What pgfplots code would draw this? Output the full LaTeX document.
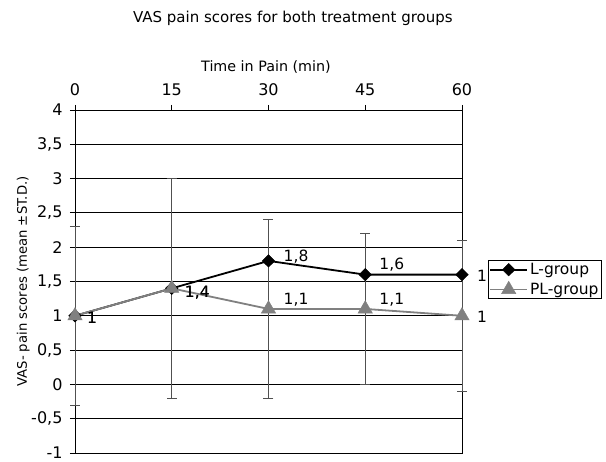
\documentclass[border=0pt]{standalone}
\usepackage{fontspec}
\setmainfont{DejaVu Sans}
\usepackage{pgfplots}
\pgfplotsset{compat=1.18}
\usepackage{pgfplotstable}
\definecolor{plgray}{HTML}{808080}
\definecolor{errgray}{HTML}{505050}

\pgfplotstableread{
x y lab dx dy
0 1 1 12 -2
15 1.4 {1,4} 13 -4
30 1.8 {1,8} 15 4
45 1.6 {1,6} 14 10
60 1.6 {1,6} 15 -2
}\Lgroup

\pgfplotstableread{
x y err lab dx dy
0 1 1.3 1 12 -2
15 1.4 1.6 {1,4} 13 -4
30 1.1 1.3 {1,1} 15 9
45 1.1 1.1 {1,1} 14 9
60 1 1.1 1 15 -1
}\PLgroup

\begin{document}
\begin{tikzpicture}
\begin{axis}[
  at={(0pt,0pt)}, anchor=south west,
  scale only axis, width=387pt, height=343pt,
  clip=false,
  font=\fontsize{15}{18}\selectfont,
  xmin=0, xmax=60, ymin=-1, ymax=4,
  xtick={0,15,30,45,60},
  ytick={-1,-0.5,0,0.5,1,1.5,2,2.5,3,3.5,4},
  xtick pos=upper, xticklabel pos=upper,
  ytick pos=left,
  tick align=outside, major tick length=5pt,
  ymajorgrids,
  grid style={black, line width=0.8pt},
  axis line style={black, line width=0.8pt},
  tick style={black, line width=0.8pt},
  /pgf/number format/assume math mode=true,
  /pgf/number format/use comma,
  xticklabel style={font=\fontsize{16}{19}\selectfont, yshift=6pt},
  yticklabel style={font=\fontsize{16}{19}\selectfont, xshift=-4pt},
  title={VAS pain scores for both treatment groups},
  title style={at={(axis description cs:0.563,1.2505)}, anchor=center, font=\fontsize{15}{18}\selectfont},
  xlabel={Time in Pain (min)},
  xlabel style={at={(axis description cs:0.4935,1.125)}, anchor=center, font=\fontsize{14.3}{17}\selectfont},
  ylabel={VAS- pain scores (mean ±ST.D.)},
  ylabel style={at={(axis description cs:-0.134,0.5)}, anchor=center, font=\fontsize{13.2}{16}\selectfont},
  legend style={at={(axis description cs:1.067,0.563)}, anchor=north west,
    draw=black, line width=0.8pt, fill=white, inner sep=1pt,
    font=\fontsize{15.5}{18}\selectfont, row sep=3pt},
  legend cell align=left,
  legend image code/.code={\draw[mark repeat=2,mark phase=2] plot coordinates {(0pt,0pt) (18.5pt,0pt) (37pt,0pt)};},
]
% error bars (drawn first)
\addplot[forget plot, only marks, mark=none,
  error bars/.cd, y dir=both, y explicit,
  error bar style={line width=0.8pt, draw=errgray},
  error mark options={rotate=90, mark size=5pt, line width=0.8pt, draw=errgray}]
  table[x=x, y=y, y error=err] {\PLgroup};
% L-group
\addplot[black, line width=1.8pt, mark=diamond*, mark size=6.2pt,
  mark options={solid, fill=black, line width=0.5pt, xscale=1.35},
  visualization depends on={\thisrow{dx} \as \ddx},
  visualization depends on={\thisrow{dy} \as \ddy},
  point meta=explicit symbolic,
  nodes near coords,
  nodes near coords style={anchor=west, inner sep=0pt, xshift=\ddx pt, yshift=\ddy pt, text=black, font=\fontsize{15.5}{18}\selectfont}]
  table[x=x, y=y, meta=lab] {\Lgroup};
\addlegendentry{L-group}
% PL-group
\addplot[plgray, line width=1.8pt, mark=triangle*, mark size=8.2pt,
  mark options={solid, fill=plgray, line width=0.5pt},
  visualization depends on={\thisrow{dx} \as \ddx},
  visualization depends on={\thisrow{dy} \as \ddy},
  point meta=explicit symbolic,
  nodes near coords,
  nodes near coords style={anchor=west, inner sep=0pt, xshift=\ddx pt, yshift=\ddy pt, text=black, font=\fontsize{15.5}{18}\selectfont}]
  table[x=x, y=y, meta=lab] {\PLgroup};
\addlegendentry{PL-group}
\end{axis}
\pgfresetboundingbox
\path[use as bounding box] (-75pt,-9pt) rectangle (531pt,453pt);
\end{tikzpicture}
\end{document}
